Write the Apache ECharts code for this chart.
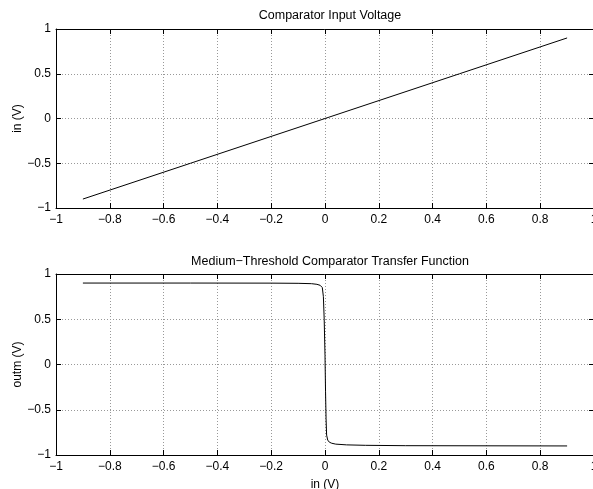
<!DOCTYPE html>
<html><head><meta charset="utf-8">
<script src="https://cdn.jsdelivr.net/npm/echarts@6/dist/echarts.min.js"></script>
<style>html,body{margin:0;padding:0;background:#fff}#c{width:593px;height:489px}</style>
</head><body><div id="c"></div>
<script>
const titles = ["Comparator Input Voltage", "Medium\u2212Threshold Comparator Transfer Function"];
const yNames = ["in (V)", "outm (V)"];
const xName = "in (V)";
const inputSeries = [[-0.9,-0.9],[-0.5,-0.5],[0,0],[0.5,0.5],[0.9,0.9]];
const transferSeries = [[-0.9,0.9],[-0.5,0.9],[-0.2,0.899],[-0.1,0.897],[-0.05,0.893],[-0.03,0.886],[-0.018,0.875],[-0.01,0.85],[-0.006,0.75],[-0.003,0.5],[0,0.1],[0.002,-0.3],[0.004,-0.6],[0.006,-0.78],[0.01,-0.835],[0.016,-0.858],[0.025,-0.87],[0.04,-0.88],[0.08,-0.888],[0.15,-0.893],[0.3,-0.897],[0.9,-0.9]];

const font = "'Liberation Sans', Arial, sans-serif";
const fmt = v => String(Math.round(v*10)/10).replace('-', '\u2212');
const grids = [
  {left:56, width:538, top:29, height:179, outerBoundsMode:'none', containLabel:false},
  {left:56, width:538, top:274, height:181, outerBoundsMode:'none', containLabel:false}
];
const gridLine = {show:true, lineStyle:{color:'#999', type:[1,2], width:1}};
const axisLine = {show:true, onZero:false, lineStyle:{color:'#000', width:1}};
const tick = {show:true, inside:true, length:5, lineStyle:{color:'#000'}};
const xAxes = [], yAxes = [];
[0,1].forEach(i=>{
  xAxes.push({type:'value', gridIndex:i, min:-1, max:1, interval:0.2, position:'bottom',
    axisLine, axisTick:tick, splitLine:gridLine,
    axisLabel:{formatter:fmt, color:'#000', fontFamily:font, fontSize:12, margin:6},
    name: i===1 ? xName : '', nameLocation:'middle', nameGap:24, nameMoveOverlap:false,
    nameTextStyle:{color:'#000', fontFamily:font, fontSize:12}});
  xAxes.push({type:'value', gridIndex:i, min:-1, max:1, interval:0.2, position:'top',
    axisLine, axisTick:tick, splitLine:{show:false}, axisLabel:{show:false}});
  yAxes.push({type:'value', gridIndex:i, min:-1, max:1, interval:0.5, position:'left',
    axisLine, axisTick:tick, splitLine:gridLine,
    axisLabel:{formatter:fmt, color:'#000', fontFamily:font, fontSize:12, margin:5},
    name: yNames[i], nameLocation:'middle', nameGap:32, nameRotate:90, nameMoveOverlap:false,
    nameTextStyle:{color:'#000', fontFamily:font, fontSize:12}});
  yAxes.push({type:'value', gridIndex:i, min:-1, max:1, interval:0.5, position:'right',
    axisLine, axisTick:tick, splitLine:{show:false}, axisLabel:{show:false}});
});
const chart = echarts.init(document.getElementById('c'), null, {renderer:'canvas'});
chart.setOption({
  animation:false,
  backgroundColor:'#fff',
  title:[
    {text:titles[0], left:325, top:4, textAlign:'center', textStyle:{fontFamily:font, fontSize:12.5, fontWeight:'normal', color:'#000'}},
    {text:titles[1], left:325, top:250, textAlign:'center', textStyle:{fontFamily:font, fontSize:12.5, fontWeight:'normal', color:'#000'}}
  ],
  grid:grids,
  xAxis:xAxes,
  yAxis:yAxes,
  series:[
    {type:'line', xAxisIndex:0, yAxisIndex:0, data:inputSeries, showSymbol:false, lineStyle:{color:'#000', width:1}},
    {type:'line', xAxisIndex:2, yAxisIndex:2, data:transferSeries, showSymbol:false, lineStyle:{color:'#000', width:1}}
  ]
});
</script></body></html>
